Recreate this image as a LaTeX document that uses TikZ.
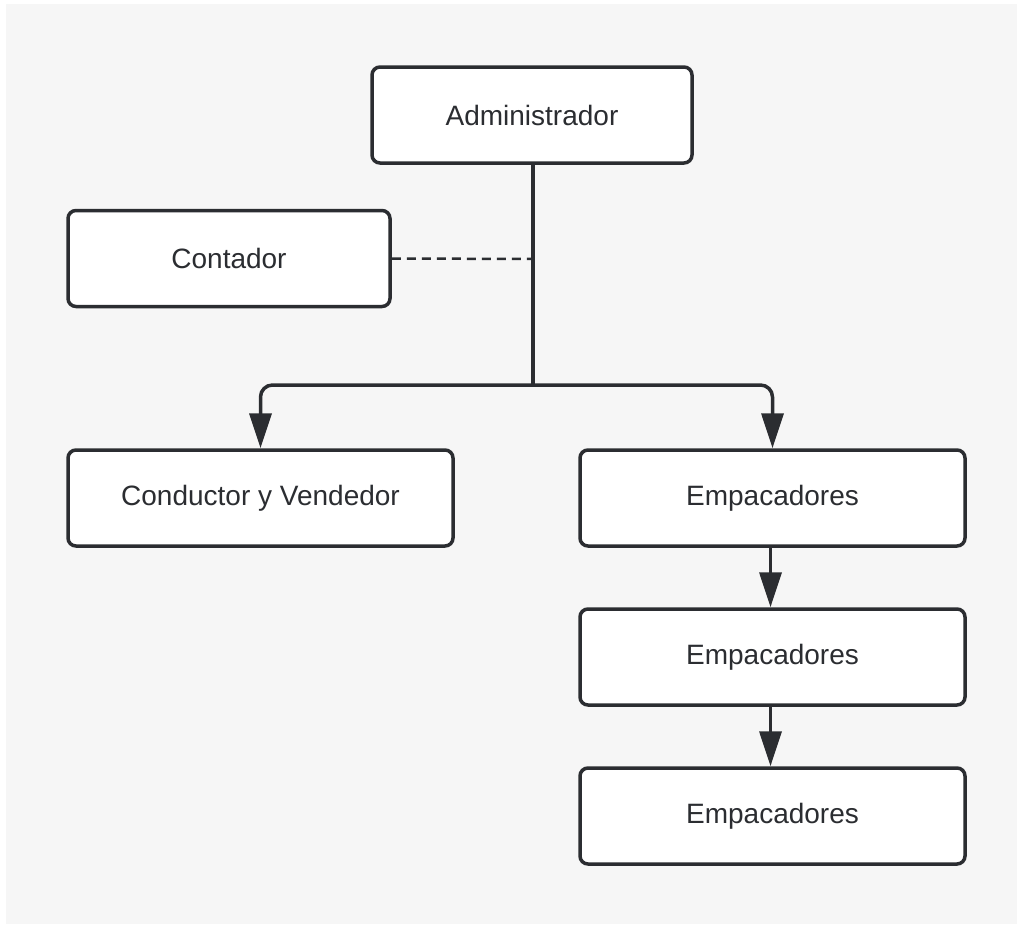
\documentclass[tikz,border=0pt]{standalone}
\usepackage{fontspec}
\setmainfont{Liberation Sans}
\usetikzlibrary{arrows.meta,positioning}

\definecolor{linegray}{HTML}{2B2D31}
\definecolor{bggray}{HTML}{F6F6F6}

\begin{document}
\begin{tikzpicture}
	% Styles
	[
	x=1pt, y=-1pt,
	role/.style={rectangle,draw=linegray,fill=white,line width=3.5pt,rounded corners=8pt,
		minimum height=96pt,inner sep=0pt,font=\fontsize{28}{32}\selectfont,text=linegray},
	link/.style={draw=linegray,line width=3.5pt},
	flow/.style={link,-{Triangle[length=35pt,width=22pt]},rounded corners=12pt},
	]

	% Background
	\fill[white] (0,0) rectangle (1017,924);
	\fill[bggray] (6,4) rectangle (1017,924);

	% Nodes
	\node at (532,115)	(adm)	[role,minimum width=320pt] {Administrador};
	\node at (229,258.5)	(cont)	[role,minimum width=322pt] {Contador};
	\node at (260.5,498)	(cond)	[role,minimum width=385pt] {Conductor y Vendedor};
	\node at (772.5,498)	(emp1)	[role,minimum width=385pt] {Empacadores};
	\node at (772.5,657)	(emp2)	[role,minimum width=385pt] {Empacadores};
	\node at (772.5,816)	(emp3)	[role,minimum width=385pt] {Empacadores};

	\coordinate (split) at (533,385);
	\coordinate (tap) at (533,259);

	% Connections
	\draw[link] (adm.south -| split) -- (split);
	\draw[link,line width=2.5pt,dash pattern=on 9pt off 6pt] (cont.east) -- (tap);
	\draw[flow] (split) -| (cond.north);
	\draw[flow] (split) -| (emp1.north);
	\draw[flow] ([xshift=-2pt]emp1.south) -- ([xshift=-2pt]emp2.north);
	\draw[flow] ([xshift=-2pt]emp2.south) -- ([xshift=-2pt]emp3.north);

\end{tikzpicture}
\end{document}
